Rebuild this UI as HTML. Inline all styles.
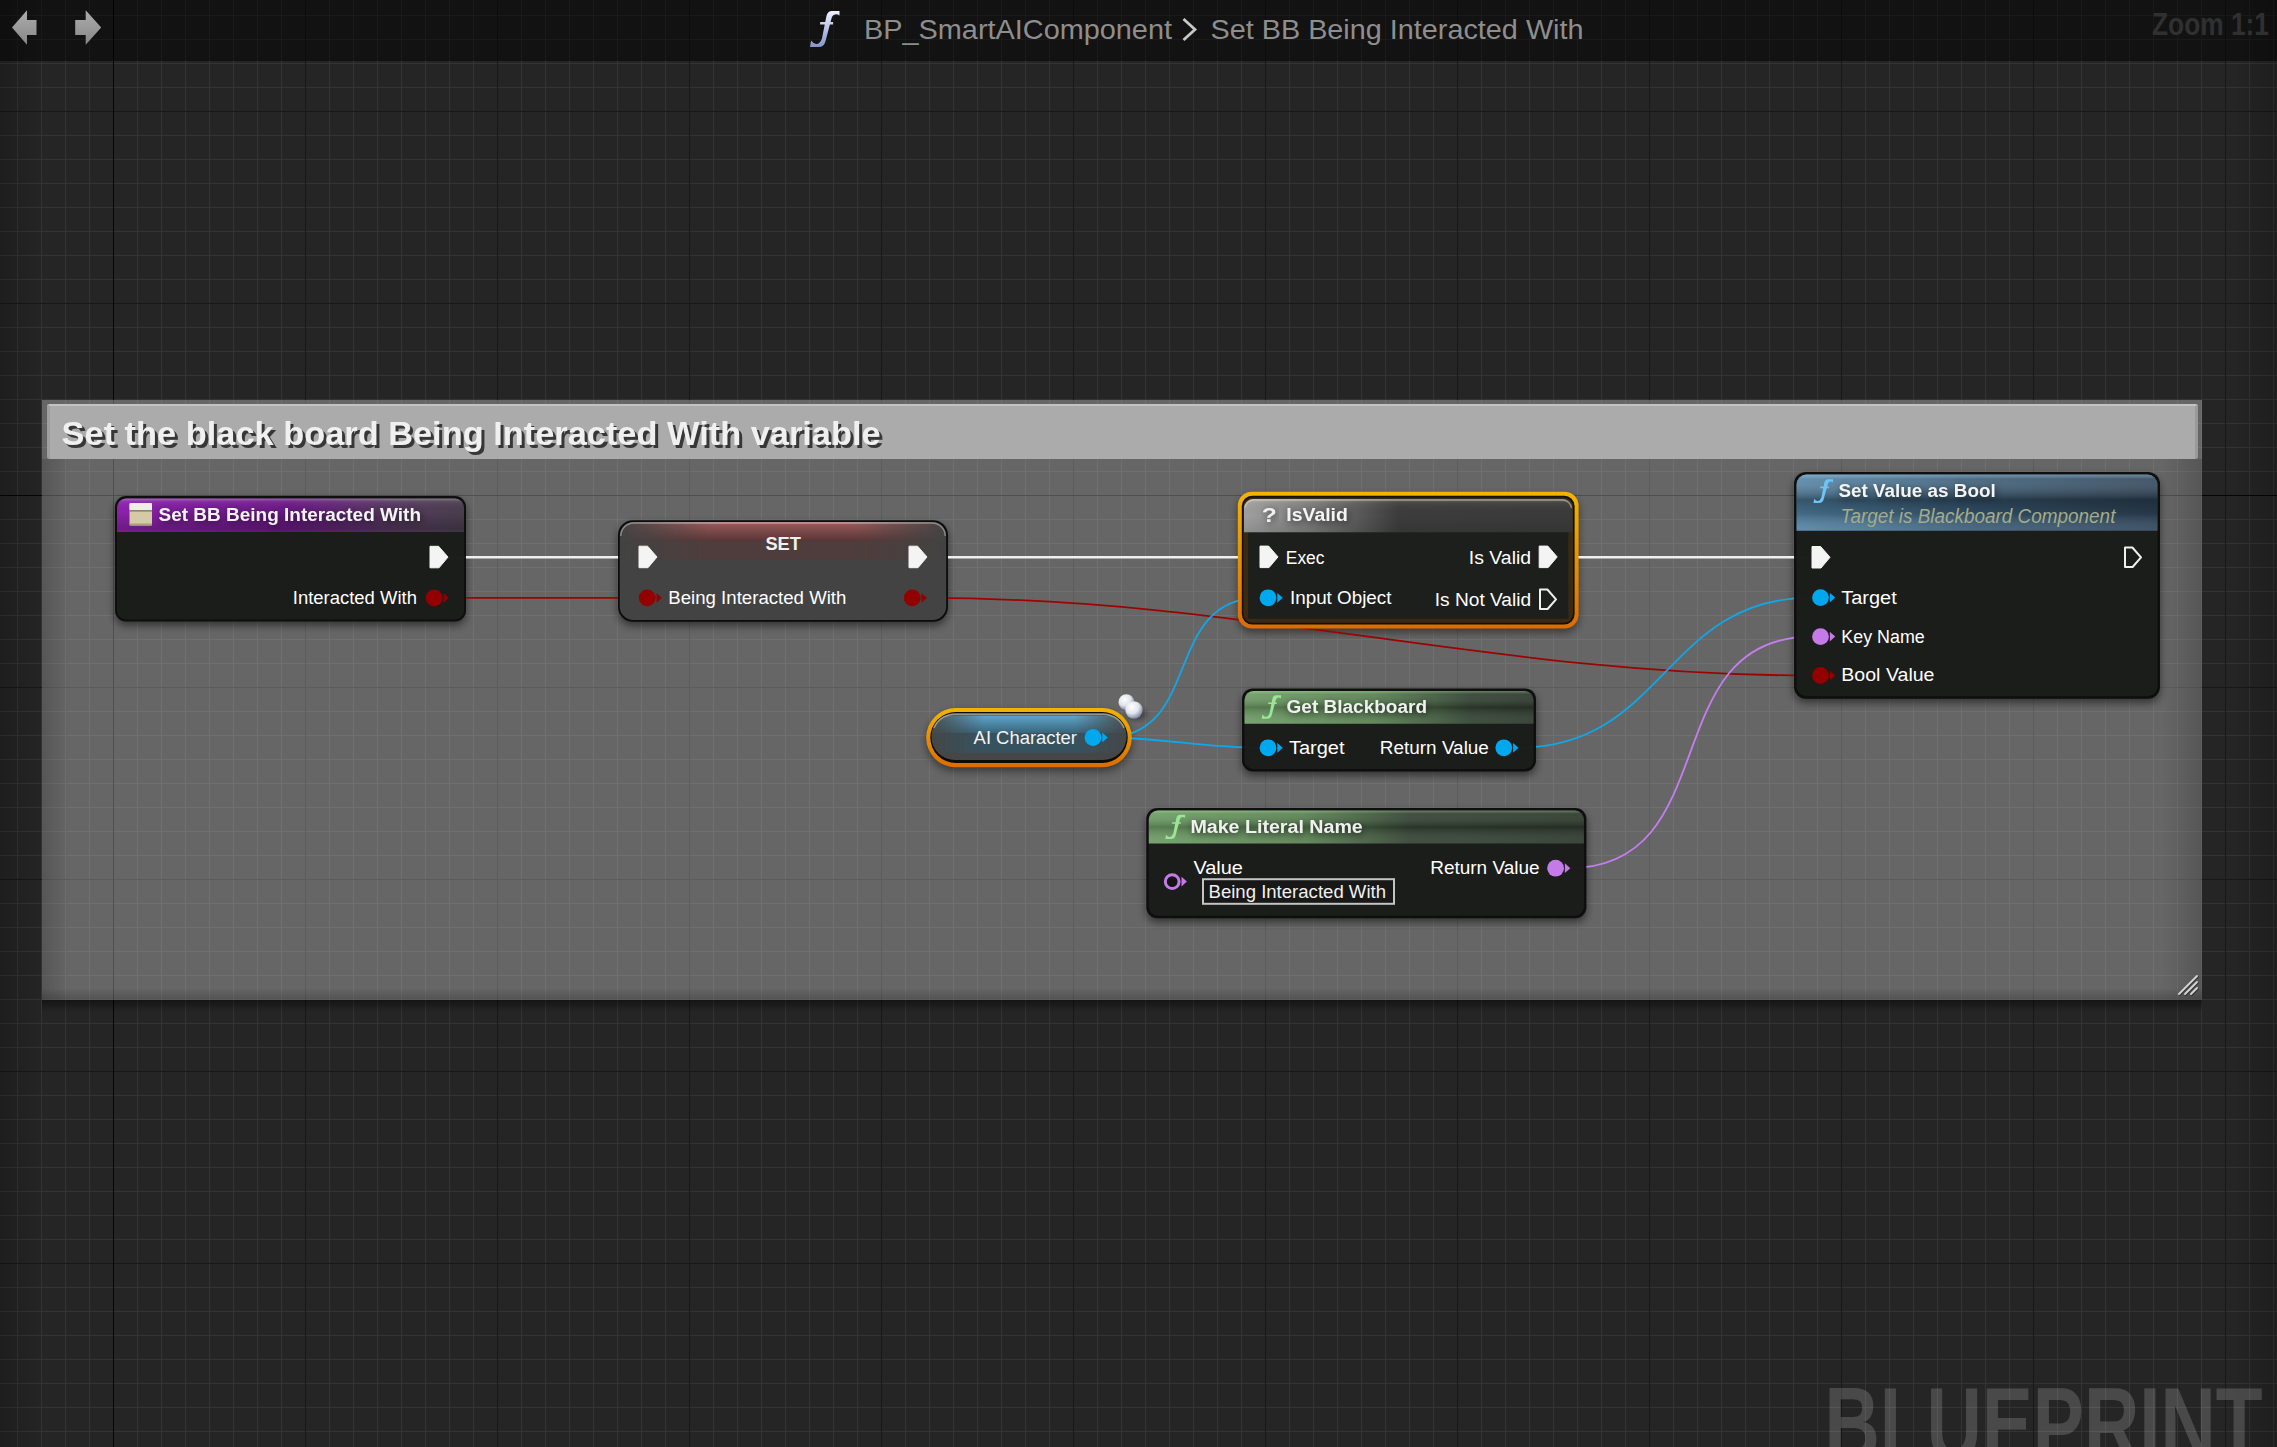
<!DOCTYPE html><html><head><meta charset="utf-8"><style>
html,body{margin:0;padding:0;width:2277px;height:1447px;overflow:hidden;background:#252525;}
body{position:relative;font-family:"Liberation Sans", sans-serif;}
#grid{position:absolute;left:0;top:0;width:2277px;height:1447px;background-color:#252525;
background-image:linear-gradient(to right,#181818 1px,transparent 1px),linear-gradient(to bottom,#181818 1px,transparent 1px),linear-gradient(to right,#343434 1px,transparent 1px),linear-gradient(to bottom,#343434 1px,transparent 1px);
background-size:192px 100%,100% 192px,24px 100%,100% 24px;background-position:113px 0,0 111px,17px 0,0 15px;}
svg{position:absolute;left:0;top:0;}
text{font-family:"Liberation Sans", sans-serif;white-space:pre;}
.ol{position:absolute;background:#050505;}
</style></head><body><div id="grid"></div><div class="ol" style="left:113px;top:0;width:1px;height:1447px"></div><div class="ol" style="left:0;top:495px;width:2277px;height:1px"></div>
<svg width="2277" height="1447" viewBox="0 0 2277 1447">
<defs>
<filter id="blur3" x="-20%" y="-40%" width="140%" height="180%"><feGaussianBlur stdDeviation="3"/></filter>
<filter id="blur4" x="-20%" y="-40%" width="140%" height="180%"><feGaussianBlur stdDeviation="4"/></filter>
<filter id="blur6" x="-10%" y="-20%" width="120%" height="140%"><feGaussianBlur stdDeviation="6"/></filter>
<filter id="tshadow" x="-5%" y="-20%" width="110%" height="150%" color-interpolation-filters="sRGB"><feOffset in="SourceAlpha" dx="2.5" dy="2.5"/><feComponentTransfer><feFuncA type="linear" slope="0.68"/></feComponentTransfer><feMerge><feMergeNode/><feMergeNode in="SourceGraphic"/></feMerge></filter>
<filter id="tglow" x="-10%" y="-60%" width="120%" height="220%" color-interpolation-filters="sRGB"><feGaussianBlur in="SourceAlpha" stdDeviation="3.5"/><feOffset dx="1" dy="2"/><feComponentTransfer><feFuncA type="linear" slope="0.55"/></feComponentTransfer><feMerge><feMergeNode/><feMergeNode in="SourceGraphic"/></feMerge></filter>
<linearGradient id="vigL" x1="0" y1="0" x2="1" y2="0"><stop offset="0" stop-color="#000" stop-opacity="0.2"/><stop offset="1" stop-color="#000" stop-opacity="0"/></linearGradient>
<linearGradient id="vigR" x1="1" y1="0" x2="0" y2="0"><stop offset="0" stop-color="#000" stop-opacity="0.2"/><stop offset="1" stop-color="#000" stop-opacity="0"/></linearGradient>
<linearGradient id="fadeH" x1="0" y1="0" x2="1" y2="0"><stop offset="0" stop-color="#fff" stop-opacity="0"/><stop offset="0.28" stop-color="#fff" stop-opacity="1"/><stop offset="0.72" stop-color="#fff" stop-opacity="1"/><stop offset="1" stop-color="#fff" stop-opacity="0"/></linearGradient>
<mask id="mfadeSET" maskUnits="userSpaceOnUse" x="618" y="515" width="330" height="60"><rect x="618" y="515" width="330" height="60" fill="url(#fadeH)"/></mask>
<clipPath id="clipAI"><rect x="931.4" y="713.1" width="195.2" height="47" rx="23.5"/></clipPath>
<mask id="mfadeAI" maskUnits="userSpaceOnUse" x="926" y="700" width="206" height="70"><rect x="926" y="700" width="206" height="70" fill="url(#fadeH)"/></mask>
<linearGradient id="purpH" gradientUnits="userSpaceOnUse" x1="117" y1="0" x2="464" y2="0"><stop offset="0" stop-color="#8c22ac"/><stop offset="0.5" stop-color="#6c1a86"/><stop offset="0.8" stop-color="#553a5e"/><stop offset="1" stop-color="#4a3e4e"/></linearGradient>
<linearGradient id="purpV" x1="0" y1="0" x2="0" y2="1"><stop offset="0" stop-color="#fff" stop-opacity="0.3"/><stop offset="0.1" stop-color="#fff" stop-opacity="0.06"/><stop offset="0.4" stop-color="#000" stop-opacity="0"/><stop offset="0.9" stop-color="#000" stop-opacity="0.22"/><stop offset="1" stop-color="#000" stop-opacity="0.12"/></linearGradient>
<linearGradient id="grayV" x1="0" y1="0" x2="0" y2="1"><stop offset="0" stop-color="#fff" stop-opacity="0.22"/><stop offset="0.12" stop-color="#fff" stop-opacity="0.05"/><stop offset="0.5" stop-color="#000" stop-opacity="0"/><stop offset="1" stop-color="#000" stop-opacity="0.1"/></linearGradient>
<linearGradient id="hdrV" x1="0" y1="0" x2="0" y2="1"><stop offset="0" stop-color="#fff" stop-opacity="0.28"/><stop offset="0.1" stop-color="#fff" stop-opacity="0.08"/><stop offset="0.3" stop-color="#000" stop-opacity="0.0"/><stop offset="0.65" stop-color="#000" stop-opacity="0.16"/><stop offset="1" stop-color="#fff" stop-opacity="0.04"/></linearGradient>
<linearGradient id="blueH" gradientUnits="userSpaceOnUse" x1="1797" y1="0" x2="2157" y2="0"><stop offset="0" stop-color="#5484a6"/><stop offset="0.5" stop-color="#3a5c76"/><stop offset="1" stop-color="#30465a"/></linearGradient>
<linearGradient id="blueV" x1="0" y1="0" x2="0" y2="1"><stop offset="0" stop-color="#a8d8ff" stop-opacity="0.45"/><stop offset="0.08" stop-color="#fff" stop-opacity="0.1"/><stop offset="0.45" stop-color="#000" stop-opacity="0.35"/><stop offset="0.7" stop-color="#000" stop-opacity="0.2"/><stop offset="1" stop-color="#fff" stop-opacity="0.08"/></linearGradient>
<linearGradient id="greenGB" gradientUnits="userSpaceOnUse" x1="1245" y1="0" x2="1533" y2="0"><stop offset="0" stop-color="#6e9e66"/><stop offset="0.45" stop-color="#5a8252"/><stop offset="0.78" stop-color="#334433"/><stop offset="1" stop-color="#2e3a2e"/></linearGradient>
<linearGradient id="greenML" gradientUnits="userSpaceOnUse" x1="1149" y1="0" x2="1584" y2="0"><stop offset="0" stop-color="#6e9e66"/><stop offset="0.36" stop-color="#5a8252"/><stop offset="0.6" stop-color="#344434"/><stop offset="1" stop-color="#2e3a2e"/></linearGradient>
<linearGradient id="greenV" x1="0" y1="0" x2="0" y2="1"><stop offset="0" stop-color="#c0ffb0" stop-opacity="0.35"/><stop offset="0.1" stop-color="#fff" stop-opacity="0.06"/><stop offset="0.5" stop-color="#000" stop-opacity="0.22"/><stop offset="1" stop-color="#fff" stop-opacity="0.06"/></linearGradient>
<linearGradient id="grayH" gradientUnits="userSpaceOnUse" x1="1244" y1="0" x2="1572" y2="0"><stop offset="0" stop-color="#a0a0a0"/><stop offset="0.2" stop-color="#7c7c7c"/><stop offset="0.38" stop-color="#525252"/><stop offset="0.47" stop-color="#3c3c3c"/><stop offset="1" stop-color="#3a3a3a"/></linearGradient>
<linearGradient id="orangeV" x1="0" y1="0" x2="0" y2="1"><stop offset="0" stop-color="#f3b400"/><stop offset="1" stop-color="#dc6c00"/></linearGradient>
<linearGradient id="setBand" x1="0" y1="0" x2="0" y2="1"><stop offset="0" stop-color="#b07070"/><stop offset="0.15" stop-color="#9a5858"/><stop offset="1" stop-color="#5c3434"/></linearGradient>
<linearGradient id="aiBand" x1="0" y1="0" x2="0" y2="1"><stop offset="0" stop-color="#5ea6cc"/><stop offset="1" stop-color="#386478"/></linearGradient>
<radialGradient id="sph" cx="0.38" cy="0.32" r="0.7"><stop offset="0" stop-color="#ffffff"/><stop offset="0.55" stop-color="#e2e4ec"/><stop offset="1" stop-color="#7c84a0"/></radialGradient>
<linearGradient id="fblue" x1="0" y1="0" x2="0" y2="1"><stop offset="0" stop-color="#eef2ff"/><stop offset="1" stop-color="#8494cc"/></linearGradient>
<linearGradient id="arrowG" x1="0" y1="0" x2="0" y2="1"><stop offset="0" stop-color="#adadad"/><stop offset="1" stop-color="#878787"/></linearGradient>
<linearGradient id="cinL" x1="0" y1="0" x2="1" y2="0"><stop offset="0" stop-color="#000" stop-opacity="0.16"/><stop offset="1" stop-color="#000" stop-opacity="0"/></linearGradient>
<linearGradient id="cinR" x1="1" y1="0" x2="0" y2="0"><stop offset="0" stop-color="#000" stop-opacity="0.16"/><stop offset="1" stop-color="#000" stop-opacity="0"/></linearGradient>
<linearGradient id="cinB" x1="0" y1="1" x2="0" y2="0"><stop offset="0" stop-color="#000" stop-opacity="0.2"/><stop offset="1" stop-color="#000" stop-opacity="0"/></linearGradient>
<linearGradient id="cshB" x1="0" y1="0" x2="0" y2="1"><stop offset="0" stop-color="#000" stop-opacity="0.45"/><stop offset="1" stop-color="#000" stop-opacity="0"/></linearGradient>
</defs>
<rect x="0" y="0" width="45" height="1447" fill="url(#vigL)"/>
<rect x="2232" y="0" width="45" height="1447" fill="url(#vigR)"/>
<text x="1824.5" y="1460" font-size="104" font-weight="bold" fill="#fff" fill-opacity="0.17" textLength="438" lengthAdjust="spacingAndGlyphs">BLUEPRINT</text>
<rect x="42" y="1000" width="2160" height="12" fill="url(#cshB)"/>
<rect x="42" y="400" width="2160" height="600" fill="#fff" fill-opacity="0.298"/>
<rect x="42" y="459" width="28" height="541" fill="url(#cinL)"/>
<rect x="2162" y="459" width="40" height="541" fill="url(#cinR)"/>
<rect x="42" y="988" width="2160" height="12" fill="url(#cinB)"/>
<rect x="47" y="404" width="2151" height="55" rx="2" fill="#ababab"/>
<rect x="49" y="404" width="2147" height="2" fill="#c2c2c2"/>
<rect x="47" y="406" width="3" height="53" fill="#000" fill-opacity="0.07"/>
<rect x="2195" y="406" width="3" height="53" fill="#000" fill-opacity="0.1"/>
<g stroke="#000" stroke-opacity="0.35" stroke-width="2" stroke-linecap="round" transform="translate(0.8 1)"><line x1="2179" y1="994" x2="2197" y2="976"/><line x1="2185" y1="994" x2="2197" y2="982"/><line x1="2191" y1="994" x2="2197" y2="988"/></g>
<g stroke="#d4d4d4" stroke-width="1.8" stroke-linecap="round"><line x1="2179" y1="994" x2="2197" y2="976"/><line x1="2185" y1="994" x2="2197" y2="982"/><line x1="2191" y1="994" x2="2197" y2="988"/></g>
<rect x="115.0" y="500.0" width="351.0" height="125.5" rx="11.0" fill="#000" fill-opacity="0.50" filter="url(#blur4)"/>
<rect x="618.0" y="524.2" width="330.0" height="101.6" rx="15.0" fill="#000" fill-opacity="0.50" filter="url(#blur4)"/>
<rect x="1237.8" y="495.7" width="340.8" height="136.9" rx="14.0" fill="#000" fill-opacity="0.45" filter="url(#blur4)"/>
<rect x="1794.0" y="476.0" width="366.0" height="226.7" rx="12.0" fill="#000" fill-opacity="0.50" filter="url(#blur4)"/>
<rect x="1242.0" y="692.4" width="294.0" height="83.1" rx="11.0" fill="#000" fill-opacity="0.50" filter="url(#blur4)"/>
<rect x="1146.3" y="812.0" width="440.1" height="110.2" rx="11.0" fill="#000" fill-opacity="0.50" filter="url(#blur4)"/>
<rect x="926.2" y="712.0" width="205.6" height="59.3" rx="29.6" fill="#000" fill-opacity="0.45" filter="url(#blur4)"/>
<g>
<line x1="440" y1="557.2" x2="648" y2="557.2" stroke="#efefef" stroke-width="2.6"/>
<line x1="918" y1="557.2" x2="1268" y2="557.2" stroke="#efefef" stroke-width="2.6"/>
<line x1="1548" y1="557.2" x2="1820" y2="557.2" stroke="#efefef" stroke-width="2.6"/>
<line x1="440" y1="597.9" x2="647" y2="597.9" stroke="#9c0404" stroke-width="1.8"/>
<path d="M925.6 597.9 C1246.9 597.9 1490.7 675.5 1812.0 675.5" fill="none" stroke="#9c0404" stroke-width="1.8"/>
<path d="M1105.4 737.5 C1203.5 737.5 1161.9 597.8 1260.0 597.8" fill="none" stroke="#10a6e8" stroke-width="1.8"/>
<path d="M1105.4 737.5 C1160.4 737.5 1205.0 747.8 1260.0 747.8" fill="none" stroke="#10a6e8" stroke-width="1.8"/>
<path d="M1517.5 747.8 C1665.7 747.8 1663.8 597.6 1812.0 597.6" fill="none" stroke="#10a6e8" stroke-width="1.8"/>
<path d="M1568.5 868.2 C1726.9 868.2 1653.6 636.6 1812.0 636.6" fill="none" stroke="#c47ef0" stroke-width="1.8"/>
</g>
<rect x="115" y="496" width="351" height="125.5" rx="11" fill="#0c0c0c" fill-opacity="0.95"/>
<rect x="117" y="498.5" width="347" height="121" rx="9" fill="#1d1f1d" fill-opacity="0.94"/>
<path d="M117 532 V507.5 A9 9 0 0 1 126 498.5 H455 A9 9 0 0 1 464 507.5 V532 Z" fill="url(#purpH)"/><path d="M117 532 V507.5 A9 9 0 0 1 126 498.5 H455 A9 9 0 0 1 464 507.5 V532 Z" fill="url(#purpV)"/>
<rect x="129.5" y="503" width="22.5" height="22.5" rx="1.5" fill="#d4caa8"/>
<rect x="129.5" y="503" width="22.5" height="7.2" rx="1" fill="#eeeee4"/>
<rect x="129.5" y="510.2" width="22.5" height="1.3" fill="#7a7262"/>
<rect x="129.5" y="523.5" width="22.5" height="2" fill="#a89e80"/>
<polygon points="430.0,546.3 438.6,546.3 448.0,557.1 439.0,567.8 430.0,567.8" fill="#f4f4f4" stroke="#f4f4f4" stroke-width="1" stroke-linejoin="round"/>
<circle cx="434.2" cy="598.0" r="8.4" fill="#920000"/><polygon points="443.5,593.1 448.9,598.0 443.5,602.9" fill="#920000"/>
<rect x="618" y="520.2" width="330" height="101.6" rx="15" fill="#0a0a0a" fill-opacity="0.95"/>
<rect x="619.8" y="522" width="326.4" height="98" rx="13.5" fill="#474747" fill-opacity="0.95"/>
<g mask="url(#mfadeSET)"><path d="M619.8 541 V535.5 A13.5 13.5 0 0 1 633.3 522 H932.7 A13.5 13.5 0 0 1 946.2 535.5 V541 Z" fill="url(#setBand)" fill-opacity="0.9"/>
<rect x="619.8" y="541" width="326.4" height="19" fill="#5a3838" fill-opacity="0.55"/></g>
<path d="M620.8 536 A13 13 0 0 1 633.8 523 H932.2 A13 13 0 0 1 945.2 536" fill="none" stroke="#e0e0e0" stroke-opacity="0.45" stroke-width="1.4"/>
<polygon points="639.0,546.2 647.6,546.2 657.0,557.0 648.0,567.7 639.0,567.7" fill="#f4f4f4" stroke="#f4f4f4" stroke-width="1" stroke-linejoin="round"/>
<polygon points="909.0,546.2 917.6,546.2 927.0,557.0 918.0,567.7 909.0,567.7" fill="#f4f4f4" stroke="#f4f4f4" stroke-width="1" stroke-linejoin="round"/>
<circle cx="647.2" cy="597.9" r="8.4" fill="#920000"/><polygon points="656.5,593.0 661.9,597.9 656.5,602.8" fill="#920000"/>
<circle cx="912.2" cy="597.9" r="8.4" fill="#920000"/><polygon points="921.5,593.0 926.9,597.9 921.5,602.8" fill="#920000"/>
<rect x="1237.8" y="491.7" width="340.8" height="136.9" rx="14" fill="url(#orangeV)"/>
<rect x="1241.8" y="495.7" width="332.8" height="128.9" rx="10.5" fill="#120f08"/>
<rect x="1243.4" y="497.5" width="329.6" height="125.3" rx="9" fill="#3a2a12"/>
<rect x="1248" y="532" width="320.4" height="86.7" fill="#1d1f1d"/>
<path d="M1244 532.2 V508 A9 9 0 0 1 1253 499 H1563.4 A9 9 0 0 1 1572.4 508 V532.2 Z" fill="url(#grayH)"/><path d="M1244 532.2 V508 A9 9 0 0 1 1253 499 H1563.4 A9 9 0 0 1 1572.4 508 V532.2 Z" fill="url(#grayV)"/>
<path d="M1245 508 A9 9 0 0 1 1254 500 H1562.4 A9 9 0 0 1 1571.4 508" fill="none" stroke="#e8dcc0" stroke-opacity="0.5" stroke-width="1.3"/>
<polygon points="1260.0,546.1 1268.6,546.1 1278.0,556.9 1269.0,567.6 1260.0,567.6" fill="#f4f4f4" stroke="#f4f4f4" stroke-width="1" stroke-linejoin="round"/>
<polygon points="1539.2,546.1 1547.8,546.1 1557.2,556.9 1548.2,567.6 1539.2,567.6" fill="#f4f4f4" stroke="#f4f4f4" stroke-width="1" stroke-linejoin="round"/>
<circle cx="1268.0" cy="597.8" r="8.4" fill="#00a8f0"/><polygon points="1277.3,592.9 1282.7,597.8 1277.3,602.7" fill="#00a8f0"/>
<polygon points="1540.0,589.5 1547.4,589.5 1556.0,599.3 1547.6,609.0 1540.0,609.0" fill="none" stroke="#f0f0f0" stroke-width="2" stroke-linejoin="round"/>
<rect x="1794" y="472" width="366" height="226.7" rx="12" fill="#0c0c0c" fill-opacity="0.95"/>
<rect x="1796.5" y="474.5" width="361" height="221.7" rx="10" fill="#1d1f1d" fill-opacity="0.94"/>
<path d="M1796.5 530.8 V484.5 A10 10 0 0 1 1806.5 474.5 H2147.5 A10 10 0 0 1 2157.5 484.5 V530.8 Z" fill="url(#blueH)"/><path d="M1796.5 530.8 V484.5 A10 10 0 0 1 1806.5 474.5 H2147.5 A10 10 0 0 1 2157.5 484.5 V530.8 Z" fill="url(#blueV)"/>
<path transform="translate(1813.3 479.2) scale(0.985 0.992)" d="M0.2 24 L0.9 19.7 Q3 22.5 5 22 Q7 21.5 8.2 18.5 L11.2 3.5 Q12 0 15 0 L20 0 L20 3 Q18 1.8 16.5 2.5 Q15 3 14.5 5.5 L10.5 20.5 Q9.5 24 6 24 Z M7 7.4 H15.7 V9 H7 Z" fill="#70c4f4"/>
<polygon points="1812.0,546.5 1820.6,546.5 1830.0,557.3 1821.0,568.0 1812.0,568.0" fill="#f4f4f4" stroke="#f4f4f4" stroke-width="1" stroke-linejoin="round"/>
<polygon points="2125.0,547.5 2132.4,547.5 2141.0,557.3 2132.6,567.0 2125.0,567.0" fill="none" stroke="#f0f0f0" stroke-width="2" stroke-linejoin="round"/>
<circle cx="1820.5" cy="597.6" r="8.4" fill="#00a8f0"/><polygon points="1829.8,592.7 1835.2,597.6 1829.8,602.5" fill="#00a8f0"/>
<circle cx="1820.5" cy="636.6" r="8.4" fill="#c57ae9"/><polygon points="1829.8,631.7 1835.2,636.6 1829.8,641.5" fill="#c57ae9"/>
<circle cx="1820.5" cy="675.5" r="8.4" fill="#920000"/><polygon points="1829.8,670.6 1835.2,675.5 1829.8,680.4" fill="#920000"/>
<rect x="1242" y="688.4" width="294" height="83.1" rx="11" fill="#0c0c0c" fill-opacity="0.95"/>
<rect x="1244.5" y="690.9" width="289" height="78.1" rx="9" fill="#1d1f1d" fill-opacity="0.94"/>
<path d="M1244.5 723.8 V699.9 A9 9 0 0 1 1253.5 690.9 H1524.5 A9 9 0 0 1 1533.5 699.9 V723.8 Z" fill="url(#greenGB)"/><path d="M1244.5 723.8 V699.9 A9 9 0 0 1 1253.5 690.9 H1524.5 A9 9 0 0 1 1533.5 699.9 V723.8 Z" fill="url(#greenV)"/>
<path transform="translate(1261.5 695.2) scale(0.975 0.983)" d="M0.2 24 L0.9 19.7 Q3 22.5 5 22 Q7 21.5 8.2 18.5 L11.2 3.5 Q12 0 15 0 L20 0 L20 3 Q18 1.8 16.5 2.5 Q15 3 14.5 5.5 L10.5 20.5 Q9.5 24 6 24 Z M7 7.4 H15.7 V9 H7 Z" fill="#9ae696"/>
<circle cx="1268.0" cy="747.8" r="8.4" fill="#00a8f0"/><polygon points="1277.3,742.9 1282.7,747.8 1277.3,752.7" fill="#00a8f0"/>
<circle cx="1503.8" cy="747.8" r="8.4" fill="#00a8f0"/><polygon points="1513.1,742.9 1518.5,747.8 1513.1,752.7" fill="#00a8f0"/>
<rect x="1146.3" y="808" width="440.1" height="110.2" rx="11" fill="#0c0c0c" fill-opacity="0.95"/>
<rect x="1148.8" y="810.5" width="435.1" height="105.2" rx="9" fill="#1d1f1d" fill-opacity="0.94"/>
<path d="M1148.8 843.6 V819.5 A9 9 0 0 1 1157.8 810.5 H1574.9 A9 9 0 0 1 1583.9 819.5 V843.6 Z" fill="url(#greenML)"/><path d="M1148.8 843.6 V819.5 A9 9 0 0 1 1157.8 810.5 H1574.9 A9 9 0 0 1 1583.9 819.5 V843.6 Z" fill="url(#greenV)"/>
<path transform="translate(1165.1 814.8) scale(1.000 1.008)" d="M0.2 24 L0.9 19.7 Q3 22.5 5 22 Q7 21.5 8.2 18.5 L11.2 3.5 Q12 0 15 0 L20 0 L20 3 Q18 1.8 16.5 2.5 Q15 3 14.5 5.5 L10.5 20.5 Q9.5 24 6 24 Z M7 7.4 H15.7 V9 H7 Z" fill="#9ae696"/>
<circle cx="1172.2" cy="881.6" r="6.9" fill="#141414" stroke="#c57ae9" stroke-width="3"/><polygon points="1181.5,876.7 1186.9,881.6 1181.5,886.5" fill="#c57ae9"/>
<rect x="1203" y="879.2" width="191" height="24.6" fill="#181818" stroke="#c4c4c4" stroke-width="2"/>
<circle cx="1555.6" cy="868.2" r="8.4" fill="#c57ae9"/><polygon points="1564.9,863.3 1570.3,868.2 1564.9,873.1" fill="#c57ae9"/>
<rect x="926.2" y="708" width="205.6" height="59.3" rx="29.6" fill="url(#orangeV)"/>
<rect x="930.3" y="712" width="197.4" height="51" rx="25.5" fill="#0c0a06"/>
<rect x="931.4" y="713.1" width="195.2" height="47" rx="23.5" fill="#464646"/>
<g clip-path="url(#clipAI)"><g mask="url(#mfadeAI)"><rect x="926" y="715.5" width="206" height="17.7" fill="url(#aiBand)"/><rect x="926" y="733.2" width="206" height="19.7" fill="#37525f"/></g></g>
<path d="M934 728 A22.5 22.5 0 0 1 955 714.2 H1103 A22.5 22.5 0 0 1 1124 728" fill="none" stroke="#ece4b8" stroke-opacity="0.5" stroke-width="1.5"/>
<circle cx="1093.0" cy="737.5" r="8.4" fill="#00a8f0"/><polygon points="1102.3,732.6 1107.7,737.5 1102.3,742.4" fill="#00a8f0"/>
<ellipse cx="1137" cy="714" rx="9" ry="5" fill="#000" fill-opacity="0.5" filter="url(#blur3)"/>
<circle cx="1126.4" cy="702.2" r="7.9" fill="url(#sph)"/>
<circle cx="1134" cy="710" r="8.7" fill="url(#sph)"/>
<text x="61.6" y="444.5" font-size="33.50" font-weight="bold" font-style="normal" fill="#f0f0f0" textLength="819.0" lengthAdjust="spacingAndGlyphs" filter="url(#tshadow)">Set the black board Being Interacted With variable</text>
<text x="158.5" y="520.7" font-size="19.20" font-weight="bold" font-style="normal" fill="#f4f4f4" textLength="262.5" lengthAdjust="spacingAndGlyphs" filter="url(#tglow)">Set BB Being Interacted With</text>
<text x="292.8" y="604.1" font-size="19.20" font-weight="normal" font-style="normal" fill="#fff" textLength="124.1" lengthAdjust="spacingAndGlyphs" >Interacted With</text>
<text x="765.4" y="550.1" font-size="18.70" font-weight="bold" font-style="normal" fill="#f0f0f0" textLength="35.5" lengthAdjust="spacingAndGlyphs" >SET</text>
<text x="668.3" y="604.1" font-size="19.20" font-weight="normal" font-style="normal" fill="#fff" textLength="178.1" lengthAdjust="spacingAndGlyphs" >Being Interacted With</text>
<text x="1261.7" y="521.5" font-size="20.00" font-weight="bold" font-style="normal" fill="#f0f0f0" textLength="15.0" lengthAdjust="spacingAndGlyphs" filter="url(#tglow)">?</text>
<text x="1286.3" y="520.8" font-size="19.20" font-weight="bold" font-style="normal" fill="#f4f4f4" textLength="61.6" lengthAdjust="spacingAndGlyphs" filter="url(#tglow)">IsValid</text>
<text x="1285.8" y="564.0" font-size="19.20" font-weight="normal" font-style="normal" fill="#fff" textLength="38.7" lengthAdjust="spacingAndGlyphs" >Exec</text>
<text x="1468.8" y="564.0" font-size="19.20" font-weight="normal" font-style="normal" fill="#fff" textLength="62.3" lengthAdjust="spacingAndGlyphs" >Is Valid</text>
<text x="1290.0" y="603.7" font-size="19.20" font-weight="normal" font-style="normal" fill="#fff" textLength="101.4" lengthAdjust="spacingAndGlyphs" >Input Object</text>
<text x="1434.8" y="605.8" font-size="19.20" font-weight="normal" font-style="normal" fill="#fff" textLength="96.3" lengthAdjust="spacingAndGlyphs" >Is Not Valid</text>
<text x="1838.4" y="497.0" font-size="19.20" font-weight="bold" font-style="normal" fill="#f4f4f4" textLength="157.4" lengthAdjust="spacingAndGlyphs" filter="url(#tglow)">Set Value as Bool</text>
<text x="1840.6" y="523.2" font-size="19.40" font-weight="normal" font-style="italic" fill="#a3ac8a" textLength="274.8" lengthAdjust="spacingAndGlyphs" >Target is Blackboard Component</text>
<text x="1841.3" y="603.5" font-size="19.20" font-weight="normal" font-style="normal" fill="#fff" textLength="55.4" lengthAdjust="spacingAndGlyphs" >Target</text>
<text x="1841.3" y="642.6" font-size="19.20" font-weight="normal" font-style="normal" fill="#fff" textLength="83.4" lengthAdjust="spacingAndGlyphs" >Key Name</text>
<text x="1841.3" y="681.4" font-size="19.20" font-weight="normal" font-style="normal" fill="#fff" textLength="93.2" lengthAdjust="spacingAndGlyphs" >Bool Value</text>
<text x="1286.6" y="712.7" font-size="19.20" font-weight="bold" font-style="normal" fill="#f0f0f0" textLength="140.4" lengthAdjust="spacingAndGlyphs" filter="url(#tglow)">Get Blackboard</text>
<text x="1288.9" y="753.9" font-size="19.20" font-weight="normal" font-style="normal" fill="#fff" textLength="55.7" lengthAdjust="spacingAndGlyphs" >Target</text>
<text x="1379.8" y="753.9" font-size="19.20" font-weight="normal" font-style="normal" fill="#fff" textLength="109.1" lengthAdjust="spacingAndGlyphs" >Return Value</text>
<text x="1190.4" y="833.1" font-size="19.20" font-weight="bold" font-style="normal" fill="#f0f0f0" textLength="172.4" lengthAdjust="spacingAndGlyphs" filter="url(#tglow)">Make Literal Name</text>
<text x="1193.4" y="874.0" font-size="19.20" font-weight="normal" font-style="normal" fill="#fff" textLength="49.5" lengthAdjust="spacingAndGlyphs" >Value</text>
<text x="1208.5" y="898.0" font-size="19.20" font-weight="normal" font-style="normal" fill="#f0f0f0" textLength="177.5" lengthAdjust="spacingAndGlyphs" >Being Interacted With</text>
<text x="1430.2" y="874.0" font-size="19.20" font-weight="normal" font-style="normal" fill="#fff" textLength="109.4" lengthAdjust="spacingAndGlyphs" >Return Value</text>
<text x="973.6" y="743.7" font-size="19.20" font-weight="normal" font-style="normal" fill="#f4f4f4" textLength="103.4" lengthAdjust="spacingAndGlyphs" >AI Character</text>
<rect x="0" y="0" width="2277" height="61" fill="#000" fill-opacity="0.5"/>
<polygon points="12,27.5 27,10.2 27,20 36.5,20 36.5,35 27,35 27,44.8" fill="url(#arrowG)"/>
<polygon points="101.2,27.5 85.7,10.2 85.7,20 75.2,20 75.2,35 85.7,35 85.7,44.8" fill="url(#arrowG)"/>
<path transform="translate(809.7 11.0) scale(1.490 1.500)" d="M0.2 24 L0.9 19.7 Q3 22.5 5 22 Q7 21.5 8.2 18.5 L11.2 3.5 Q12 0 15 0 L20 0 L20 3 Q18 1.8 16.5 2.5 Q15 3 14.5 5.5 L10.5 20.5 Q9.5 24 6 24 Z M7 7.4 H15.7 V9 H7 Z" fill="url(#fblue)"/>
<text x="864.0" y="39.0" font-size="27.50" font-weight="normal" font-style="normal" fill="#8e8e8e" textLength="308.0" lengthAdjust="spacingAndGlyphs" >BP_SmartAIComponent</text>
<polyline points="1183.5,19 1195,29.5 1183.5,40" fill="none" stroke="#c8c8c8" stroke-width="2.8"/>
<text x="1210.5" y="39.0" font-size="27.50" font-weight="normal" font-style="normal" fill="#8e8e8e" textLength="373.0" lengthAdjust="spacingAndGlyphs" >Set BB Being Interacted With</text>
<text x="2152.0" y="35.0" font-size="31.60" font-weight="bold" font-style="normal" fill="#303030" textLength="117.0" lengthAdjust="spacingAndGlyphs" >Zoom 1:1</text>
</svg></body></html>
